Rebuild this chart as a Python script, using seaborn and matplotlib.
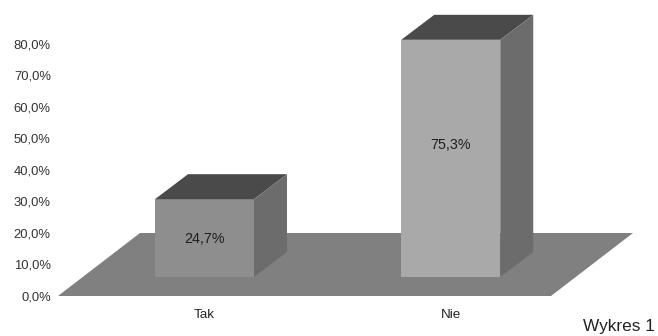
import matplotlib
matplotlib.use("Agg")
import matplotlib.pyplot as plt
import seaborn as sns
from matplotlib.patches import Polygon

categories = ["Tak", "Nie"]
values = [24.7, 75.3]
value_labels = ["24,7%", "75,3%"]
tick_values = [0, 10, 20, 30, 40, 50, 60, 70, 80]
tick_labels = ["0,0%", "10,0%", "20,0%", "30,0%", "40,0%", "50,0%", "60,0%", "70,0%", "80,0%"]

sns.set_theme(style="white")
plt.rcParams["font.family"] = ["Liberation Sans", "DejaVu Sans"]

W, H = 658, 336
fig = plt.figure(figsize=(W / 100, H / 100), dpi=100, facecolor="white")

# Axes frame in figure pixels; one category step and one percent have fixed pixel sizes.
LEFT, RIGHT, BOTTOM, TOP = 55, 640, 296, 15
UNIT_X, UNIT_Y = 246.25, 3.15
FIRST_X = 204.5
ax = fig.add_axes([LEFT / W, 1 - BOTTOM / H, (RIGHT - LEFT) / W, (BOTTOM - TOP) / H])

front_colors = ["#8e8e8e", "#a9a9a9"]
sns.barplot(x=categories, y=values, hue=categories, palette=front_colors, saturation=1,
            width=0.402, legend=False, ax=ax, zorder=3, linewidth=0)

ax.set_xlim((LEFT - FIRST_X) / UNIT_X, (RIGHT - FIRST_X) / UNIT_X)
ax.set_ylim(0, (BOTTOM - TOP) / UNIT_Y)

# Oblique projection shared by the floor and the bars.
DEPTH_X, DEPTH_Y = 33 / UNIT_X, 25 / UNIT_Y
BAR_BASE = 19 / UNIT_Y
FLOOR_BACK = 63 / UNIT_Y
FLOOR_DX = 82 / UNIT_X
FLOOR_LEFT = (58 - FIRST_X) / UNIT_X
FLOOR_RIGHT = (551 - FIRST_X) / UNIT_X

ax.add_patch(Polygon([(FLOOR_LEFT, 0), (FLOOR_RIGHT, 0),
                      (FLOOR_RIGHT + FLOOR_DX, FLOOR_BACK), (FLOOR_LEFT + FLOOR_DX, FLOOR_BACK)],
                     closed=True, facecolor="#808080", edgecolor="none", zorder=1, clip_on=False))

# Lift each front face onto the floor, then add its top and side faces.
label_heights = [18.0, 47.9]
for bar, text, label_y in zip(ax.patches[:2], value_labels, label_heights):
    bar.set_y(BAR_BASE)
    x0, x1 = bar.get_x(), bar.get_x() + bar.get_width()
    y0, y1 = BAR_BASE, BAR_BASE + bar.get_height()
    ax.add_patch(Polygon([(x0, y1), (x1, y1), (x1 + DEPTH_X, y1 + DEPTH_Y), (x0 + DEPTH_X, y1 + DEPTH_Y)],
                         closed=True, facecolor="#4a4a4a", edgecolor="none", zorder=3, clip_on=False))
    ax.add_patch(Polygon([(x1, y0), (x1 + DEPTH_X, y0 + DEPTH_Y), (x1 + DEPTH_X, y1 + DEPTH_Y), (x1, y1)],
                         closed=True, facecolor="#6c6c6c", edgecolor="none", zorder=3, clip_on=False))
    ax.text((x0 + x1) / 2, label_y, text, ha="center", va="center", fontsize=10.3,
            color="#1e1e1e", zorder=5)

ax.set_yticks(tick_values, tick_labels)
ax.set_xticks(range(len(categories)), categories)
ax.tick_params(axis="y", length=0, pad=3, labelsize=9.4, labelcolor="#333333")
ax.tick_params(axis="x", length=0, pad=9, labelsize=9.6, labelcolor="#222222")
ax.set_xlabel("")
ax.set_ylabel("")
sns.despine(ax=ax, left=True, bottom=True)
ax.patch.set_alpha(0)

fig.text(655 / W, 1 - 326 / H, "Wykres 1", ha="right", va="center", fontsize=12.4, color="#222222")

fig.savefig("out.png", dpi=100)
